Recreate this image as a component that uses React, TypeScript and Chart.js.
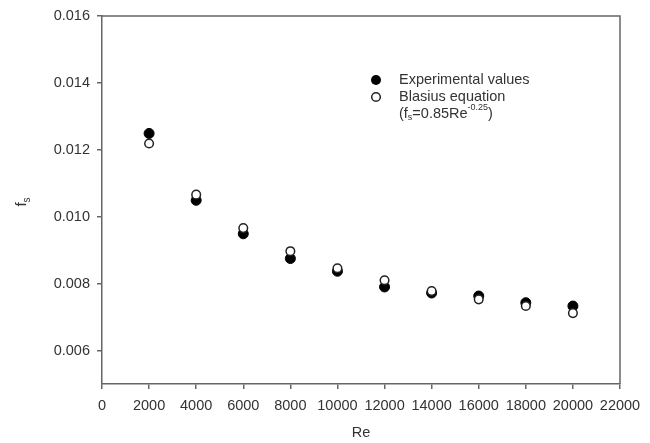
import React, { useEffect, useRef } from "react";
import { Chart, registerables } from "chart.js";

Chart.register(...registerables);

const reValues = [2000, 4000, 6000, 8000, 10000, 12000, 14000, 16000, 18000, 20000];
const experimental = [0.01249, 0.01049, 0.00949, 0.00875, 0.00837, 0.0079, 0.00772, 0.00763, 0.00743, 0.00733];
const blasius = [0.01219, 0.01066, 0.00966, 0.00897, 0.00846, 0.0081, 0.00778, 0.00753, 0.00733, 0.00712];
const yTicks = [0.006, 0.008, 0.01, 0.012, 0.014, 0.016];
const legendLabels = ["Experimental values", "Blasius equation"];

const FONT = "'Liberation Sans', Arial, sans-serif";
const TEXT = "#333333";
const AXIS = "#666666";
const FS = 14.5;

export default function App() {
  const ref = useRef<HTMLCanvasElement | null>(null);

  useEffect(() => {
    document.body.style.margin = "0";
    const canvas = ref.current;
    if (!canvas) return;

    const overlay = {
      id: "overlay",
      afterDraw(chart: any) {
        const ctx = chart.ctx as CanvasRenderingContext2D;
        const { left, top, right, bottom } = chart.chartArea;
        ctx.save();
        ctx.strokeStyle = AXIS;
        ctx.lineWidth = 1.5;
        ctx.beginPath();
        ctx.moveTo(left, top);
        ctx.lineTo(right, top);
        ctx.lineTo(right, bottom);
        ctx.stroke();

        ctx.fillStyle = TEXT;
        ctx.font = `${FS}px ${FONT}`;
        ctx.textAlign = "center";
        ctx.textBaseline = "middle";
        ctx.fillText("Re", (left + right) / 2, 433);

        ctx.save();
        ctx.translate(22, 202);
        ctx.rotate(-Math.PI / 2);
        ctx.textAlign = "left";
        ctx.font = `15px ${FONT}`;
        const fw = ctx.measureText("f").width;
        ctx.font = `10px ${FONT}`;
        const sw = ctx.measureText("s").width;
        const total = fw + sw;
        ctx.font = `15px ${FONT}`;
        ctx.fillText("f", -total / 2, 0);
        ctx.font = `10px ${FONT}`;
        ctx.fillText("s", -total / 2 + fw, 5);
        ctx.restore();

        const mx = 376;
        const tx = 399;
        const y1 = 80;
        const y2 = 97;
        const y3 = 114;
        ctx.fillStyle = "#000";
        ctx.beginPath();
        ctx.arc(mx, y1, 5, 0, Math.PI * 2);
        ctx.fill();
        ctx.fillStyle = "#fff";
        ctx.strokeStyle = "#222";
        ctx.lineWidth = 1.5;
        ctx.beginPath();
        ctx.arc(mx, y2, 4.3, 0, Math.PI * 2);
        ctx.fill();
        ctx.stroke();

        ctx.fillStyle = TEXT;
        ctx.textAlign = "left";
        ctx.textBaseline = "middle";
        ctx.font = `${FS}px ${FONT}`;
        ctx.fillText(legendLabels[0], tx, y1);
        ctx.fillText(legendLabels[1], tx, y2);
        let x = tx;
        const seg = (t: string, size: number, dy: number) => {
          ctx.font = `${size}px ${FONT}`;
          ctx.fillText(t, x, y3 + dy);
          x += ctx.measureText(t).width;
        };
        seg("(f", FS, 0);
        seg("s", 9, 4);
        seg("=0.85Re", FS, 0);
        seg("-0.25", 9, -6);
        seg(")", FS, 0);
        ctx.restore();
      },
    };

    const chart = new Chart(canvas, {
      type: "scatter",
      data: {
        datasets: [
          {
            label: legendLabels[0],
            data: reValues.map((r, i) => ({ x: r, y: experimental[i] })),
            pointRadius: 5,
            pointBackgroundColor: "#000",
            pointBorderColor: "#000",
            pointBorderWidth: 1,
            order: 2,
          },
          {
            label: legendLabels[1],
            data: reValues.map((r, i) => ({ x: r, y: blasius[i] })),
            pointRadius: 4.3,
            pointBackgroundColor: "#fff",
            pointBorderColor: "#222",
            pointBorderWidth: 1.5,
            order: 1,
          },
        ],
      },
      options: {
        animation: false,
        responsive: false,
        layout: { padding: { top: 16, right: 30, left: 0, bottom: 0 } },
        plugins: { legend: { display: false }, tooltip: { enabled: false } },
        scales: {
          x: {
            type: "linear",
            min: 0,
            max: 22000,
            ticks: {
              stepSize: 2000,
              color: TEXT,
              font: { family: FONT, size: FS },
              padding: 8,
              maxRotation: 0,
              callback: (v: any) => String(v),
            },
            grid: { drawOnChartArea: false, drawTicks: true, tickLength: 5, color: AXIS, lineWidth: 1.5 },
            border: { display: true, color: AXIS, width: 1.5 },
            afterFit: (s: any) => { s.height = 59; },
          },
          y: {
            type: "linear",
            min: 0.005,
            max: 0.016,
            afterBuildTicks: (s: any) => { s.ticks = yTicks.map((v) => ({ value: v })); },
            ticks: {
              color: TEXT,
              font: { family: FONT, size: FS },
              padding: 7,
              callback: (v: any) => Number(v).toFixed(3),
            },
            grid: { drawOnChartArea: false, drawTicks: true, tickLength: 5, color: AXIS, lineWidth: 1.5 },
            border: { display: true, color: AXIS, width: 1.5 },
            afterFit: (s: any) => { s.width = 102; },
          },
        },
      },
      plugins: [overlay],
    });
    return () => chart.destroy();
  }, []);

  return (
    <div style={{ width: 650, height: 443 }}>
      <canvas ref={ref} width={650} height={443} style={{ display: "block" }} />
    </div>
  );
}
